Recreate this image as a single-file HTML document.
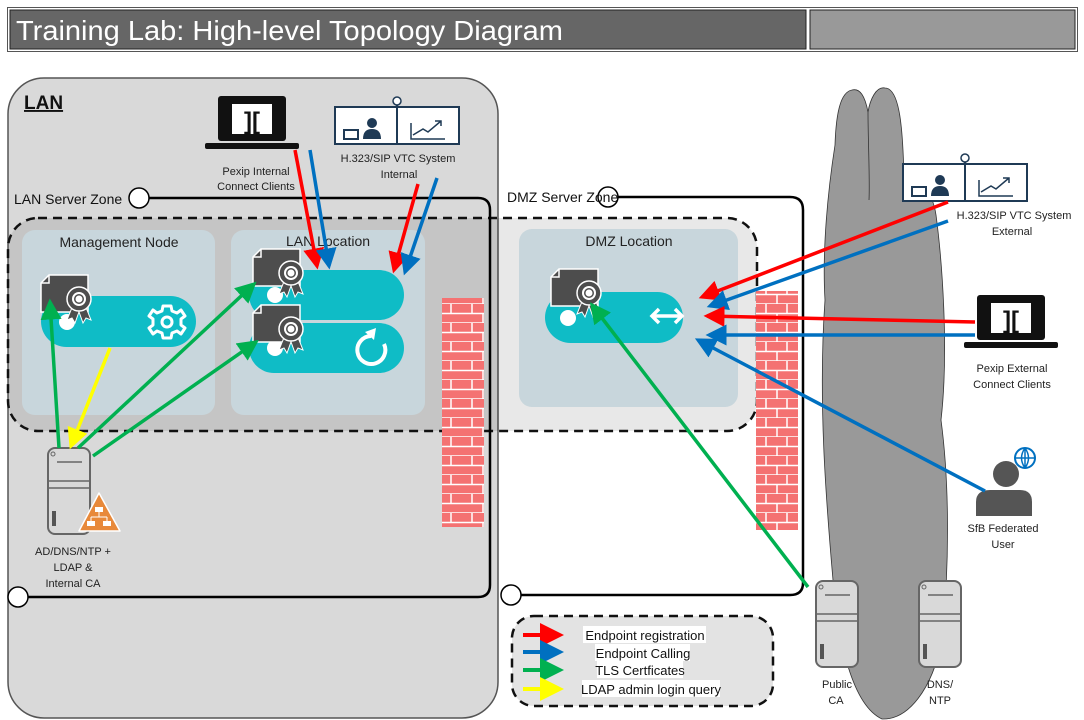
<!DOCTYPE html>
<html><head><meta charset="utf-8"><style>
body{margin:0;width:1084px;height:720px;background:#fff;overflow:hidden}
svg{display:block}
text{font-family:"Liberation Sans",sans-serif}
</style></head><body>
<svg width="1084" height="720" viewBox="0 0 1084 720" xmlns="http://www.w3.org/2000/svg">
<defs>
<marker id="ar" markerWidth="6" markerHeight="6" refX="5" refY="3" orient="auto" markerUnits="strokeWidth"><path d="M0,0 L6,3 L0,6 z" fill="#ff0000"/></marker>
<marker id="ab" markerWidth="6" markerHeight="6" refX="5" refY="3" orient="auto" markerUnits="strokeWidth"><path d="M0,0 L6,3 L0,6 z" fill="#0070c0"/></marker>
<marker id="ag" markerWidth="6" markerHeight="6" refX="5" refY="3" orient="auto" markerUnits="strokeWidth"><path d="M0,0 L6,3 L0,6 z" fill="#00b050"/></marker>
<marker id="ay" markerWidth="6" markerHeight="6" refX="5" refY="3" orient="auto" markerUnits="strokeWidth"><path d="M0,0 L6,3 L0,6 z" fill="#ffff00"/></marker>
<g id="cert">
<path d="M0,8 L8,0 L47,0 L47,37 L0,37 z" fill="#4d4d4d" stroke="#fff" stroke-width="1.5"/>
<path d="M0,8 L8,8 L8,0" fill="none" stroke="#fff" stroke-width="1.5"/>
<path d="M32,30 L26,45 L31,43 L34,48 L39,34 M44,30 L50,45 L45,43 L42,48 L37,34" fill="#4d4d4d" stroke="#fff" stroke-width="1"/>
<circle cx="38" cy="24" r="12" fill="#4d4d4d" stroke="#fff" stroke-width="1.5"/>
<circle cx="38" cy="24" r="7" fill="#fff"/><circle cx="38" cy="24" r="5" fill="#4d4d4d"/><circle cx="38" cy="24" r="3.5" fill="#fff"/>
</g>
<g id="srv">
<rect x="1" y="1" width="42" height="86" rx="7" fill="#d9d9d9" stroke="#666" stroke-width="2"/>
<circle cx="6" cy="7" r="2" fill="none" stroke="#666"/>
<line x1="10" y1="15" x2="35" y2="15" stroke="#666" stroke-width="1.5"/>
<line x1="1" y1="34" x2="43" y2="34" stroke="#666" stroke-width="1.5"/>
<line x1="1" y1="41" x2="43" y2="41" stroke="#666" stroke-width="1.5"/>
<rect x="5" y="64" width="4" height="15" fill="#555"/>
</g>
<g id="lap">
<rect x="13" y="0" width="68" height="45" rx="3" fill="#111"/>
<rect x="27" y="8" width="40" height="30" fill="#fff"/>
<text x="47" y="33" font-size="24" font-weight="bold" text-anchor="middle" fill="#111">][</text>
<rect x="0" y="47" width="94" height="6" rx="2" fill="#111"/>
</g>
<g id="vtc">
<rect x="0" y="10" width="124" height="37" fill="#fff" stroke="#1f3a55" stroke-width="2"/>
<line x1="62" y1="6" x2="62" y2="47" stroke="#1f3a55" stroke-width="2"/>
<circle cx="62" cy="4" r="4" fill="#fff" stroke="#1f3a55" stroke-width="1.5"/>
<rect x="9" y="33" width="14" height="9" fill="none" stroke="#1f3a55" stroke-width="2"/>
<circle cx="37" cy="26" r="5" fill="#1f3a55"/><path d="M28,42 Q28,32 37,32 Q46,32 46,42z" fill="#1f3a55"/>
<path d="M76,26 L76,42 L110,42 M78,38 L88,32 L93,35 L106,24 M100,24 L106,24 L106,29" fill="none" stroke="#1f3a55" stroke-width="1.5"/>
</g>
<pattern id="brick" width="42" height="19" patternUnits="userSpaceOnUse">
<rect width="42" height="19" fill="#f47272"/>
<path d="M0,9.5 H42 M0,19 H42 M10,0 V9.5 M31,0 V9.5 M21,9.5 V19" stroke="#fff" stroke-width="1.5"/>
</pattern>
</defs>

<!-- title -->
<rect x="7.5" y="7.5" width="1070" height="44" fill="#fff" stroke="#555"/>
<rect x="10" y="10" width="796" height="39" fill="#666" stroke="#222"/>
<rect x="810" y="10" width="265" height="39" fill="#999" stroke="#222"/>
<text x="16" y="40" font-size="28" fill="#fff" textLength="547" lengthAdjust="spacingAndGlyphs">Training Lab: High-level Topology Diagram</text>

<!-- LAN -->
<rect x="8" y="78" width="490" height="640" rx="36" fill="#d9d9d9" stroke="#555" stroke-width="1.5"/>
<text x="24" y="109" font-size="19" font-weight="bold" text-decoration="underline" fill="#111">LAN</text>

<!-- cloud -->
<path d="M852,90 C840,92 836,115 835,145 C828,190 822,250 825,300 C818,400 826,500 833,580 C838,640 852,705 882,719 C908,720 932,690 942,640 C950,560 949,480 941,420 C949,350 942,260 936,215 C932,188 918,180 904,180 C903,130 900,88 885,88 C876,86 870,100 868,112 C865,96 860,88 852,90 z" fill="#999" stroke="#333" stroke-width="0.8"/>
<path d="M868,112 C868,140 870,180 869,200" fill="none" stroke="#333" stroke-width="0.8"/>

<!-- dashed zone -->
<rect x="8" y="218" width="749" height="213" rx="30" fill="rgba(0,0,0,0.09)" stroke="#111" stroke-width="2.5" stroke-dasharray="9,6"/>

<!-- server zones -->
<path d="M149,198 H478 Q490,198 490,210 V585 Q490,597 478,597 H28" fill="none" stroke="#000" stroke-width="2.5"/>
<circle cx="139" cy="198" r="10" fill="#fff" stroke="#000" stroke-width="1.5"/>
<circle cx="18" cy="597" r="10" fill="#fff" stroke="#000" stroke-width="1.5"/>
<text x="14" y="204" font-size="14" fill="#111">LAN Server Zone</text>
<path d="M618,197 H790 Q803,197 803,210 V583 Q803,595 790,595 H521" fill="none" stroke="#000" stroke-width="2.5"/>
<circle cx="608" cy="197" r="10" fill="#fff" stroke="#000" stroke-width="1.5"/>
<circle cx="511" cy="595" r="10" fill="#fff" stroke="#000" stroke-width="1.5"/>
<text x="507" y="202" font-size="14" fill="#111">DMZ Server Zone</text>

<!-- panels -->
<rect x="22" y="230" width="193" height="185" rx="13" fill="#c8d6dc"/>
<rect x="231" y="230" width="194" height="185" rx="13" fill="#c8d6dc"/>
<rect x="519" y="229" width="219" height="178" rx="13" fill="#c8d6dc"/>
<text x="119" y="247" font-size="14" text-anchor="middle" fill="#222">Management Node</text>
<text x="328" y="246" font-size="14" text-anchor="middle" fill="#222">LAN Location</text>
<text x="629" y="246" font-size="14" text-anchor="middle" fill="#222">DMZ Location</text>

<!-- pills -->
<rect x="41" y="296" width="155" height="51" rx="25.5" fill="#0fbcc6"/>
<rect x="249" y="270" width="155" height="50" rx="25" fill="#0fbcc6"/>
<rect x="249" y="323" width="155" height="50" rx="25" fill="#0fbcc6"/>
<rect x="545" y="292" width="138" height="51" rx="25.5" fill="#0fbcc6"/>
<circle cx="67" cy="322" r="8" fill="#fff"/>
<circle cx="275" cy="295" r="8" fill="#fff"/>
<circle cx="275" cy="348" r="8" fill="#fff"/>
<circle cx="568" cy="318" r="8" fill="#fff"/>
<g transform="translate(167,322)" fill="none" stroke="#fff" stroke-width="3">
<circle r="5"/>
<path d="M-4,-16 L4,-16 L5,-11 L10,-9 L14,-12 L18,-6 L14,-3 L14,3 L18,6 L14,12 L10,9 L5,11 L4,16 L-4,16 L-5,11 L-10,9 L-14,12 L-18,6 L-14,3 L-14,-3 L-18,-6 L-14,-12 L-10,-9 L-5,-11 Z" stroke-linejoin="round"/>
</g>
<path d="M371,336 A14,14 0 1 0 384,344" fill="none" stroke="#fff" stroke-width="4"/>
<path d="M365,332 L376,328 L374,340 z" fill="#fff"/>
<path d="M653,316 H681 M659,309 L652,316 L659,323 M675,309 L682,316 L675,323" fill="none" stroke="#fff" stroke-width="3.5"/>

<use href="#cert" x="41" y="275"/>
<use href="#cert" x="253" y="249"/>
<use href="#cert" x="253" y="305"/>
<use href="#cert" x="551" y="269"/>

<!-- firewalls -->
<rect x="442" y="298" width="42" height="229" fill="url(#brick)"/>
<rect x="756" y="291" width="42" height="239" fill="url(#brick)"/>

<!-- devices -->
<use href="#lap" x="205" y="96"/>
<text x="256" y="175" font-size="11" text-anchor="middle" fill="#222">Pexip Internal</text>
<text x="256" y="190" font-size="11" text-anchor="middle" fill="#222">Connect Clients</text>
<use href="#vtc" x="335" y="97"/>
<text x="398" y="162" font-size="11" text-anchor="middle" fill="#222">H.323/SIP VTC System</text>
<text x="399" y="178" font-size="11" text-anchor="middle" fill="#222">Internal</text>
<use href="#vtc" x="903" y="154"/>
<text x="1014" y="219" font-size="11" text-anchor="middle" fill="#222">H.323/SIP VTC System</text>
<text x="1012" y="235" font-size="11" text-anchor="middle" fill="#222">External</text>
<use href="#lap" x="964" y="295"/>
<text x="1012" y="372" font-size="11" text-anchor="middle" fill="#222">Pexip External</text>
<text x="1012" y="388" font-size="11" text-anchor="middle" fill="#222">Connect Clients</text>
<circle cx="1006" cy="474" r="13" fill="#555"/>
<path d="M976,516 V502 Q976,490 990,490 H1020 Q1032,490 1032,502 V516 z" fill="#555"/>
<circle cx="1025" cy="458" r="10" fill="#fff" stroke="#0070c0" stroke-width="2"/>
<path d="M1015,458 H1035 M1025,448 V468 M1025,448 Q1018,458 1025,468 M1025,448 Q1032,458 1025,468" fill="none" stroke="#0070c0" stroke-width="1.5"/>
<text x="1003" y="532" font-size="11" text-anchor="middle" fill="#222">SfB Federated</text>
<text x="1003" y="548" font-size="11" text-anchor="middle" fill="#222">User</text>
<use href="#srv" x="47" y="447"/>
<path d="M99,493 L120,531 L79,531 z" fill="#e8893a" stroke="#fff" stroke-width="1.5" stroke-linejoin="round"/>
<rect x="95" y="507" width="8" height="5" fill="#fff"/><rect x="87" y="521" width="8" height="5" fill="#fff"/><rect x="103" y="521" width="8" height="5" fill="#fff"/>
<path d="M99,512 V517 M91,517 H107 M91,517 V521 M107,517 V521" stroke="#fff" stroke-width="1"/>
<text x="73" y="555" font-size="11" text-anchor="middle" fill="#222">AD/DNS/NTP +</text>
<text x="73" y="571" font-size="11" text-anchor="middle" fill="#222">LDAP &amp;</text>
<text x="73" y="587" font-size="11" text-anchor="middle" fill="#222">Internal CA</text>
<use href="#srv" x="815" y="580"/>
<use href="#srv" x="918" y="580"/>
<text x="837" y="688" font-size="11" text-anchor="middle" fill="#222">Public</text>
<text x="836" y="704" font-size="11" text-anchor="middle" fill="#222">CA</text>
<text x="940" y="688" font-size="11" text-anchor="middle" fill="#222">DNS/</text>
<text x="940" y="704" font-size="11" text-anchor="middle" fill="#222">NTP</text>

<!-- arrows -->
<g stroke-width="3.5" fill="none">
<line x1="295" y1="150" x2="317" y2="266" stroke="#ff0000" marker-end="url(#ar)"/>
<line x1="310" y1="150" x2="329" y2="266" stroke="#0070c0" marker-end="url(#ab)"/>
<line x1="418" y1="184" x2="394" y2="270" stroke="#ff0000" marker-end="url(#ar)"/>
<line x1="437" y1="178" x2="405" y2="272" stroke="#0070c0" marker-end="url(#ab)"/>
<line x1="948" y1="202" x2="702" y2="297" stroke="#ff0000" marker-end="url(#ar)"/>
<line x1="948" y1="221" x2="710" y2="306" stroke="#0070c0" marker-end="url(#ab)"/>
<line x1="975" y1="322" x2="707" y2="316" stroke="#ff0000" marker-end="url(#ar)"/>
<line x1="975" y1="335" x2="709" y2="335" stroke="#0070c0" marker-end="url(#ab)"/>
<line x1="985" y1="491" x2="698" y2="340" stroke="#0070c0" marker-end="url(#ab)"/>
<line x1="808" y1="587" x2="592" y2="305" stroke="#00b050" marker-end="url(#ag)"/>
<line x1="59" y1="448" x2="50" y2="302" stroke="#00b050" marker-end="url(#ag)"/>
<line x1="110" y1="348" x2="71" y2="446" stroke="#ffff00" marker-end="url(#ay)"/>
<line x1="78" y1="448" x2="254" y2="284" stroke="#00b050" marker-end="url(#ag)"/>
<line x1="93" y1="456" x2="256" y2="342" stroke="#00b050" marker-end="url(#ag)"/>
</g>

<!-- legend -->
<rect x="512" y="616" width="261" height="90" rx="22" fill="#e3e3e3" stroke="#111" stroke-width="2.5" stroke-dasharray="9,6"/>
<g stroke-width="4">
<line x1="523" y1="635" x2="560" y2="635" stroke="#ff0000" marker-end="url(#ar)"/>
<line x1="523" y1="652" x2="560" y2="652" stroke="#0070c0" marker-end="url(#ab)"/>
<line x1="523" y1="670" x2="560" y2="670" stroke="#00b050" marker-end="url(#ag)"/>
<line x1="523" y1="689" x2="560" y2="689" stroke="#ffff00" marker-end="url(#ay)"/>
</g>
<rect x="583" y="626" width="123" height="17" fill="#fff"/>
<rect x="595" y="644" width="95" height="17" fill="#fff"/>
<rect x="597" y="661" width="86" height="17" fill="#fff"/>
<rect x="582" y="680" width="138" height="17" fill="#fff"/>
<g font-size="13" fill="#111" text-anchor="middle">
<text x="645" y="640">Endpoint registration</text>
<text x="643" y="658">Endpoint Calling</text>
<text x="640" y="675">TLS Certficates</text>
<text x="651" y="694">LDAP admin login query</text>
</g>
</svg>
</body></html>
